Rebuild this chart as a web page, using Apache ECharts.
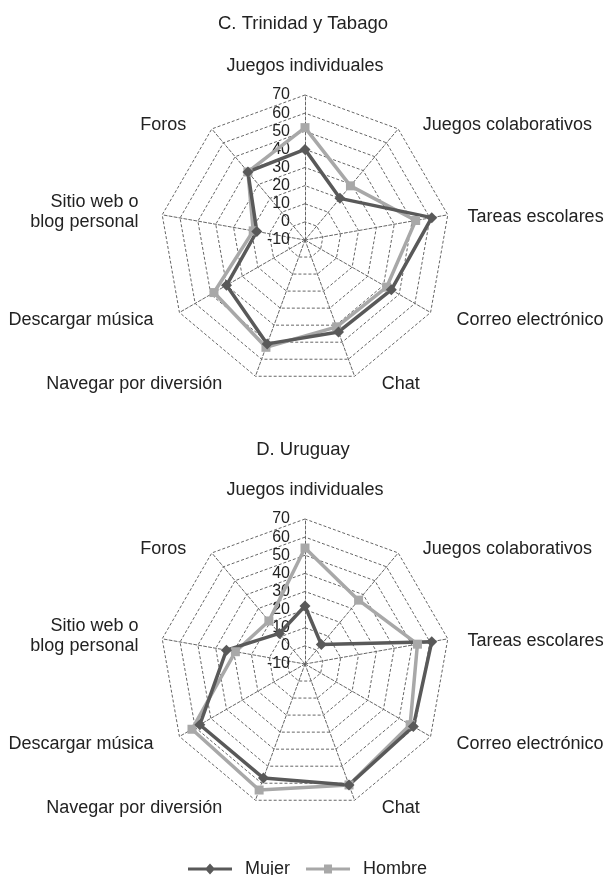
<!DOCTYPE html>
<html>
<head>
<meta charset="utf-8">
<script src="https://cdn.jsdelivr.net/npm/echarts@6/dist/echarts.min.js"></script>
<style>
  html, body { margin: 0; padding: 0; background: #fff; }
  #chart { width: 606px; height: 875px; }
</style>
</head>
<body>
<div id="chart"></div>
<script>
// categorias (sentido horario desde arriba)
const indicadores = [
  'Juegos individuales',
  'Juegos colaborativos',
  'Tareas escolares',
  'Correo electrónico',
  'Chat',
  'Navegar por diversión',
  'Descargar música',
  'Sitio web o\nblog personal',
  'Foros'
]
const titulos = ['C. Trinidad y Tabago', 'D. Uruguay']
const series = ['Mujer', 'Hombre']

// C. Trinidad y Tabago
const trinidadMujer = [40, 20, 61, 45, 44, 51, 40, 17, 39]
const trinidadHombre = [52, 29, 52, 42, 41, 53, 48, 19, 39]
// D. Uruguay
const uruguayMujer = [22, 4, 61, 59, 61, 57, 57, 34, 12]
const uruguayHombre = [54, 36, 53, 57, 61, 64, 62, 29, 21]

const escalaMin = -10
const escalaMax = 70

const FONT = 'Liberation Sans, Arial, sans-serif'
const colorMujer = '#595959'
const colorHombre = '#a8a8a8'

// ajuste fino de la posicion de cada nombre
const estiloNombres = [
  { padding: [0, 0, 4, 0] },
  { padding: [0, 0, 0, 15], verticalAlign: 'top', lineHeight: 16 },
  { padding: [0, 0, 0, 5], verticalAlign: 'top', lineHeight: 10 },
  { padding: [0, 0, 0, 13] },
  { padding: [0, 0, 0, 22], verticalAlign: 'bottom', lineHeight: 12 },
  { padding: [0, 28, 0, 0], verticalAlign: 'bottom', lineHeight: 12 },
  { padding: [0, 13, 0, 0] },
  { padding: [0, 9, 0, 0] },
  { padding: [0, 16, 0, 0], verticalAlign: 'top', lineHeight: 16 }
]

// echarts dibuja el radar en sentido antihorario: se invierte el orden
// (el primero se queda arriba) para que quede en sentido horario
function horario(arr) {
  return [arr[0]].concat(arr.slice(1).reverse())
}

function buildRadar(center) {
  const estilos = horario(estiloNombres)
  return {
    center: center,
    radius: 145,
    shape: 'polygon',
    splitNumber: 8,
    startAngle: 90,
    axisNameGap: 15,
    axisName: {
      color: '#222',
      fontFamily: FONT,
      fontSize: 18,
      lineHeight: 20
    },
    splitArea: { show: false },
    splitLine: {
      lineStyle: { color: '#666', width: 1, type: [3, 2] }
    },
    axisLine: {
      lineStyle: { color: '#666', width: 1, type: [3, 2] }
    },
    axisTick: { show: false },
    axisLabel: { show: false },
    indicator: horario(indicadores).map((n, i) => {
      let ind = {
        name: n,
        min: escalaMin,
        max: escalaMax,
        nameTextStyle: Object.assign({}, estilos[i])
      }
      if (i === 0) {
        ind.axisLabel = {
          show: true,
          color: '#222',
          fontFamily: FONT,
          fontSize: 16,
          margin: 15,
          showMinLabel: true,
          showMaxLabel: true
        }
      }
      return ind
    })
  }
}

function buildSerie(idx, mujer, hombre) {
  return {
    type: 'radar',
    radarIndex: idx,
    data: [
      {
        name: 'Hombre',
        value: horario(hombre),
        symbol: 'rect',
        symbolSize: 9,
        itemStyle: { color: colorHombre },
        lineStyle: { color: colorHombre, width: 3.5 }
      },
      {
        name: 'Mujer',
        value: horario(mujer),
        symbol: 'diamond',
        symbolSize: 11,
        itemStyle: { color: colorMujer },
        lineStyle: { color: colorMujer, width: 3.5 }
      }
    ]
  }
}

const myChart = echarts.init(document.getElementById('chart'), null, { renderer: 'canvas' })
const option = {
  backgroundColor: '#fff',
  animation: false,
  title: [
    {
      text: titulos[0],
      left: 'center',
      top: 9,
      textStyle: { color: '#222', fontFamily: FONT, fontSize: 18.5, fontWeight: 'normal' }
    },
    {
      text: titulos[1],
      left: 'center',
      top: 435,
      textStyle: { color: '#222', fontFamily: FONT, fontSize: 18.5, fontWeight: 'normal' }
    }
  ],
  legend: {
    top: 855,
    left: 183,
    itemWidth: 44,
    itemHeight: 11,
    itemGap: 16,
    textStyle: { color: '#222', fontFamily: FONT, fontSize: 18, padding: [0, 0, 0, 8] },
    data: [
      { name: series[0], icon: 'path://M0,4 H44 V7 H0 Z M22,0 L27,5.5 L22,11 L17,5.5 Z', itemStyle: { color: colorMujer } },
      { name: series[1], icon: 'path://M0,4 H44 V7 H0 Z M18,1 H26 V10 H18 Z', itemStyle: { color: colorHombre } }
    ]
  },
  radar: [buildRadar([305, 240]), buildRadar([305, 664])],
  series: [
    buildSerie(0, trinidadMujer, trinidadHombre),
    buildSerie(1, uruguayMujer, uruguayHombre)
  ]
}
myChart.setOption(option)
</script>
</body>
</html>
